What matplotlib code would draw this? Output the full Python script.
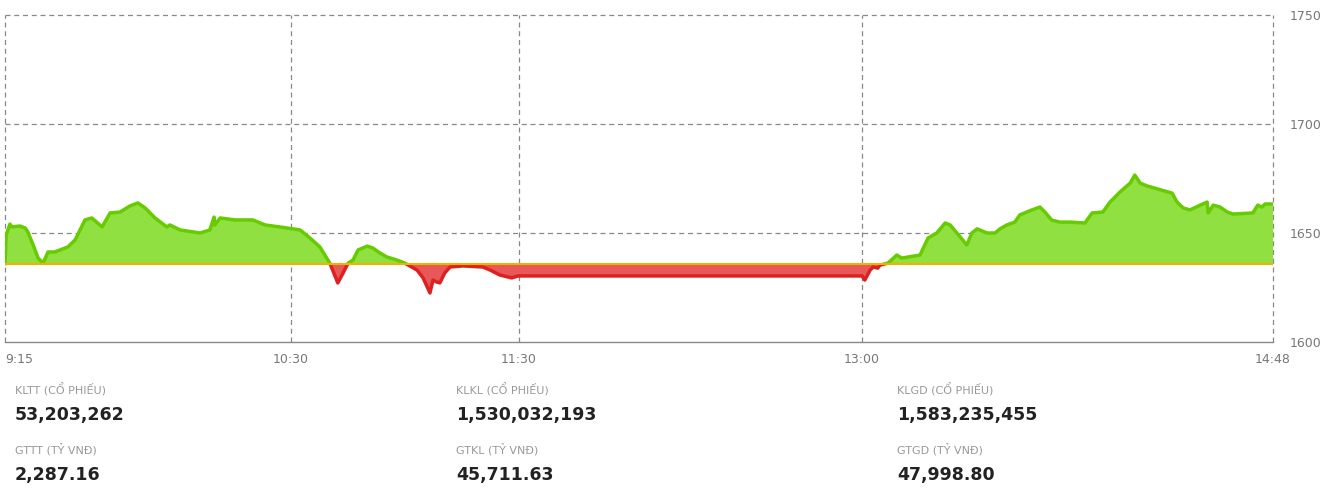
import matplotlib.pyplot as plt
from matplotlib.patches import Rectangle

plt.rcParams['font.family'] = ['DejaVu Sans']

# phút tính từ 9:15 và giá trị chỉ số
minutes = [0, 0.3, 1.3, 1.8, 3.9, 5.3, 6.0, 7.4, 8.7, 10.0, 11.3, 13.1, 14.4, 16.5,
           18.4, 19.7, 21.0, 22.8, 25.5, 27.6, 30.2, 32.8, 34.9, 36.8, 39.4, 42.5,
           43.3, 46.0, 49.4, 51.2, 53.8, 54.9, 55.1, 56.5, 60.4, 65.1, 68.3, 74.1,
           77.5, 80.1, 82.7, 85.3, 87.4, 88.8, 90.1, 91.4, 92.7, 95.1, 96.6, 98.5,
           100.3, 102.9, 105.0, 108.2, 109.8, 111.6, 112.4, 113.4, 114.2, 115.5,
           116.9, 120.3, 125.5, 127.4, 130.0, 133.1, 134.7, 225.1, 225.8, 227.2,
           228.0, 229.2, 229.8, 231.9, 234.2, 235.5, 240.3, 242.4, 244.7, 246.9,
           248.2, 250.0, 252.6, 253.9, 255.3, 257.9, 260.0, 261.3, 263.1, 265.2,
           266.5, 269.7, 271.8, 273.1, 274.9, 277.0, 279.7, 283.6, 285.5, 288.3,
           290.2, 292.8, 295.5, 296.7, 298.1, 299.9, 306.5, 307.8, 309.4, 311.2,
           313.9, 315.7, 316.0, 317.3, 319.1, 321.0, 322.5, 327.7, 329.0, 330.1,
           330.9, 332.6, 333]
values = [1636.0, 1649.1, 1654.1, 1652.8, 1653.2, 1652.3, 1650.5, 1644.5, 1638.5,
          1636.2, 1641.3, 1641.3, 1642.2, 1643.6, 1646.8, 1651.4, 1656.0, 1656.9,
          1652.8, 1659.2, 1659.6, 1662.4, 1663.8, 1661.5, 1656.9, 1652.8, 1653.7,
          1651.4, 1650.5, 1650.0, 1651.4, 1657.3, 1653.7, 1656.9, 1656.0, 1656.0,
          1653.7, 1652.3, 1651.4, 1647.7, 1643.6, 1636.2, 1627.1, 1631.7, 1636.2,
          1637.6, 1642.2, 1644.0, 1643.1, 1640.8, 1639.0, 1637.6, 1636.2, 1633.0,
          1629.4, 1622.5, 1628.4, 1627.5, 1627.1, 1631.7, 1634.4, 1634.9, 1634.4,
          1633.0, 1630.7, 1629.4, 1630.3, 1630.3, 1628.4, 1633.0, 1634.4, 1633.9,
          1635.3, 1636.2, 1639.9, 1638.5, 1639.9, 1647.7, 1650.0, 1654.6, 1653.7,
          1650.0, 1644.5, 1650.0, 1651.9, 1650.0, 1650.0, 1651.9, 1653.7, 1655.0,
          1658.3, 1660.6, 1661.9, 1659.6, 1655.9, 1655.0, 1655.0, 1654.6, 1659.2,
          1659.6, 1664.2, 1668.8, 1672.9, 1676.6, 1672.9, 1671.6, 1668.3, 1664.2,
          1661.5, 1660.6, 1662.8, 1664.2, 1659.2, 1662.8, 1661.9, 1659.6, 1658.7,
          1659.2, 1662.8, 1661.9, 1663.3, 1663.3, 1663.3]
ref_value = 1636.0

tick_pos = [0, 75, 135, 225, 333]
tick_labels = ['9:15', '10:30', '11:30', '13:00', '14:48']
y_ticks = [1600, 1650, 1700, 1750]

stat_labels = [['KLTT (CỔ PHIẾU)', 'GTTT (TỶ VNĐ)'],
               ['KLKL (CỔ PHIẾU)', 'GTKL (TỶ VNĐ)'],
               ['KLGD (CỔ PHIẾU)', 'GTGD (TỶ VNĐ)']]
stat_values = [['53,203,262', '2,287.16'],
               ['1,530,032,193', '45,711.63'],
               ['1,583,235,455', '47,998.80']]

fig = plt.figure(figsize=(13.3, 4.93), dpi=100)
ax = fig.add_axes([5 / 1330, 1 - 342 / 493, 1268 / 1330, 327 / 493])

green_line, green_fill = '#66cc00', '#8fe040'
red_line, red_fill = '#dd2020', '#e85858'

ax.fill_between(minutes, values, ref_value, where=[v >= ref_value for v in values],
                interpolate=True, color=green_fill, lw=0)
ax.fill_between(minutes, values, ref_value, where=[v <= ref_value for v in values],
                interpolate=True, color=red_fill, lw=0)

l1, = ax.plot(minutes, values, color=green_line, lw=2.5, solid_joinstyle='round')
l1.set_clip_path(Rectangle((0, ref_value), 333, 200, transform=ax.transData))
l2, = ax.plot(minutes, values, color=red_line, lw=2.5, solid_joinstyle='round')
l2.set_clip_path(Rectangle((0, 1500), 333, ref_value - 1500, transform=ax.transData))

ax.axhline(ref_value, color='#f0b400', lw=1.5, zorder=5)

ax.set_xlim(0, 333)
ax.set_ylim(1600, 1750)

# lưới nét đứt
for t in tick_pos:
    ax.axvline(t, color='#888888', lw=0.9, ls=(0, (4, 3)), zorder=0, clip_on=False)
for y in [1650, 1700, 1750]:
    ax.axhline(y, color='#888888', lw=0.9, ls=(0, (4, 3)), zorder=0, clip_on=False)

for s in ['top', 'left', 'right']:
    ax.spines[s].set_visible(False)
ax.spines['bottom'].set_color('#888888')
ax.spines['bottom'].set_linewidth(1.0)

ax.yaxis.tick_right()
ax.set_yticks(y_ticks)
ax.set_yticklabels([str(v) for v in y_ticks])
ax.tick_params(axis='y', length=0, pad=12, labelsize=9, labelcolor='#777777')
ax.set_xticks(tick_pos)
ax.set_xticklabels(tick_labels)
ax.tick_params(axis='x', length=0, pad=8, labelsize=9, labelcolor='#777777')
xl = ax.get_xticklabels()
xl[0].set_ha('left')

# thống kê bên dưới
col_x = [15, 456, 897]
for i, x in enumerate(col_x):
    for j in range(2):
        y_lab = 390 + j * 60
        y_val = 415 + j * 60
        fig.text(x / 1330, 1 - y_lab / 493, stat_labels[i][j], fontsize=8,
                 color='#999999', va='center', ha='left')
        fig.text(x / 1330, 1 - y_val / 493, stat_values[i][j], fontsize=12.5,
                 fontweight='bold', color='#222222', va='center', ha='left')

fig.savefig('out.png', dpi=100)
